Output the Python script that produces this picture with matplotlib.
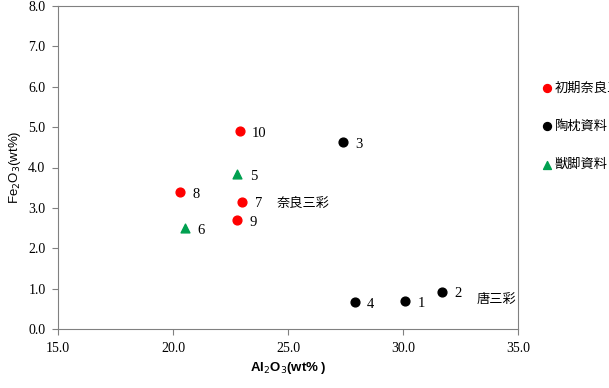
import matplotlib.pyplot as plt

plt.rcParams['font.family'] = ['Liberation Serif', 'Noto Sans CJK JP']

# sample data: Al2O3 (x), Fe2O3 (y), sample number
red_x = [22.9, 23.0, 20.3, 22.8]
red_y = [4.90, 3.15, 3.39, 2.70]
red_n = ['10', '7', '8', '9']

black_x = [30.1, 31.7, 27.4, 27.9]
black_y = [0.69, 0.92, 4.63, 0.67]
black_n = ['1', '2', '3', '4']

green_x = [22.8, 20.5]
green_y = [3.84, 2.50]
green_n = ['5', '6']

series_names = ['初期奈良三彩', '陶枕資料', '獣脚資料']

fig = plt.figure(figsize=(6.09, 3.88), dpi=100)
ax = fig.add_axes([58/609, 1 - 329/388, 460/609, 323/388])

ax.scatter(red_x, red_y, s=40, color='#ff0000', marker='o', label=series_names[0], zorder=3)
ax.scatter(black_x, black_y, s=40, color='black', marker='o', label=series_names[1], zorder=3)
ax.scatter(green_x, green_y, s=40, color='#00a050', marker='^', label=series_names[2], zorder=3)

for xs, ys, ns in [(red_x, red_y, red_n), (black_x, black_y, black_n), (green_x, green_y, green_n)]:
    for x, y, n in zip(xs, ys, ns):
        ax.annotate(n, (x, y), xytext=(9, -1.5), textcoords='offset points',
                    fontsize=10.5, va='center')

ax.text(24.5, 3.12, '奈良三彩', family='Noto Sans CJK JP', fontsize=9.5, va='center')
ax.text(33.2, 0.74, '唐三彩', family='Noto Sans CJK JP', fontsize=9.5, va='center')

ax.set_xlim(15, 35)
ax.set_ylim(0, 8)
ax.set_xticks([15, 20, 25, 30, 35])
ax.set_yticks([0, 1, 2, 3, 4, 5, 6, 7, 8])
ax.xaxis.set_major_formatter(plt.FormatStrFormatter('%.1f'))
ax.yaxis.set_major_formatter(plt.FormatStrFormatter('%.1f'))
ax.tick_params(labelsize=10, length=4, color='#808080', pad=5)
for s in ax.spines.values():
    s.set_color('#808080')

ax.set_xlabel('Al$_2$O$_3$(wt% )', family='Liberation Sans', fontweight='bold', fontsize=9.5)
ax.set_ylabel('Fe$_2$O$_3$(wt%)', family='Liberation Sans', fontsize=9.5)

fig.legend(loc='upper left', bbox_to_anchor=(527/609, 1 - 70/388), frameon=False,
           prop={'family': 'Noto Sans CJK JP', 'size': 9.5}, handletextpad=0.0,
           labelspacing=1.9, handlelength=1.2, markerscale=0.9)

fig.savefig('out.png', dpi=100)
